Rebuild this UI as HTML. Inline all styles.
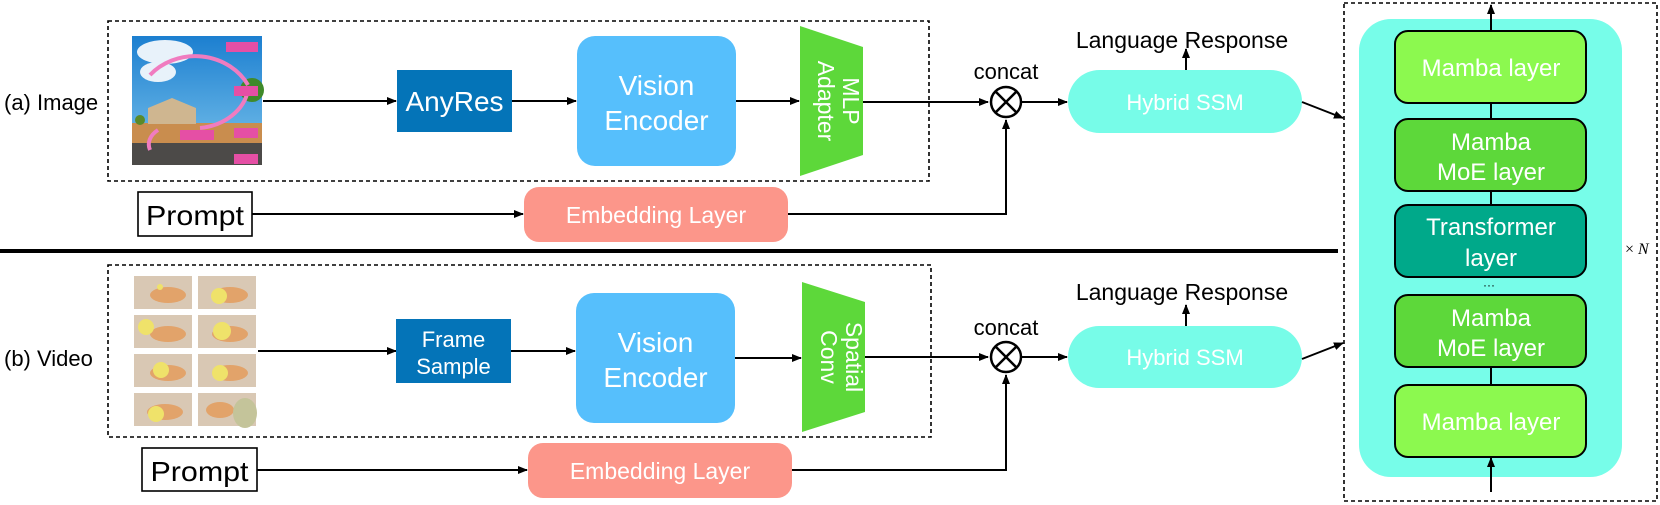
<!DOCTYPE html>
<html><head><meta charset="utf-8"><style>
html,body{margin:0;padding:0;background:#fff;}
svg{display:block;font-family:"Liberation Sans",Arial,sans-serif;}
</style></head><body>
<svg width="1660" height="505" viewBox="0 0 1660 505" xmlns="http://www.w3.org/2000/svg">
<defs>
<marker id="ah" markerWidth="10" markerHeight="8" refX="9" refY="4" orient="auto" markerUnits="userSpaceOnUse">
<path d="M0,0 L10,4 L0,8 Z" fill="#000"/></marker>
<linearGradient id="sky" x1="0" y1="0" x2="0" y2="1"><stop offset="0" stop-color="#1c7fd0"/><stop offset="1" stop-color="#7cc4ec"/></linearGradient>
</defs>

<!-- ===== TOP (a) ===== -->
<text x="4" y="110" font-size="22">(a) Image</text>
<rect x="108" y="21" width="821" height="160" fill="none" stroke="#000" stroke-width="1.6" stroke-dasharray="4,3"/>
<g>
<rect x="132" y="36" width="130" height="129" fill="url(#sky)"/>
<ellipse cx="165" cy="52" rx="28" ry="12" fill="#e8f2fa"/>
<ellipse cx="158" cy="72" rx="18" ry="10" fill="#e8f2fa"/>
<rect x="132" y="123" width="130" height="20" fill="#c98d4e"/>
<rect x="132" y="143" width="130" height="22" fill="#4c4a48"/>
<polygon points="148,124 148,108 172,98 196,108 196,124" fill="#cfb690"/>
<circle cx="140" cy="120" r="5" fill="#5a8a2a"/>
<circle cx="252" cy="90" r="12" fill="#3f8a2a"/>
<path d="M150,75 A60,55 0 0 1 248,85" fill="none" stroke="#f07cc0" stroke-width="4"/>
<path d="M248,90 A55,45 0 0 1 200,128" fill="none" stroke="#f07cc0" stroke-width="4"/>
<path d="M150,150 A30,20 0 0 1 158,130" fill="none" stroke="#f07cc0" stroke-width="4"/>
<rect x="226" y="42" width="32" height="10" fill="#e54fa5"/>
<rect x="234" y="86" width="24" height="10" fill="#e54fa5"/>
<rect x="180" y="130" width="34" height="10" fill="#e54fa5"/>
<rect x="234" y="128" width="24" height="10" fill="#e54fa5"/>
<rect x="234" y="154" width="24" height="10" fill="#e54fa5"/>
</g>
<line x1="263" y1="101" x2="396" y2="101" stroke="#000" stroke-width="2" marker-end="url(#ah)"/>
<rect x="397" y="70" width="115" height="62" fill="#0474b8"/>
<text x="454.5" y="111" font-size="28" fill="#fff" text-anchor="middle">AnyRes</text>
<line x1="512" y1="101" x2="576" y2="101" stroke="#000" stroke-width="2" marker-end="url(#ah)"/>
<rect x="577" y="36" width="159" height="130" rx="18" fill="#56bffc"/>
<text x="656.5" y="95" font-size="28" fill="#fff" text-anchor="middle">Vision</text>
<text x="656.5" y="130" font-size="28" fill="#fff" text-anchor="middle">Encoder</text>
<line x1="736" y1="101" x2="799" y2="101" stroke="#000" stroke-width="2" marker-end="url(#ah)"/>
<polygon points="800,26 863,47 863,155 800,176" fill="#5dd83a"/>
<text transform="translate(843,101) rotate(90)" font-size="23" fill="#fff" text-anchor="middle">MLP</text>
<text transform="translate(818,101) rotate(90)" font-size="23" fill="#fff" text-anchor="middle">Adapter</text>
<line x1="863" y1="102" x2="988" y2="102" stroke="#000" stroke-width="2" marker-end="url(#ah)"/>
<text x="1006" y="79" font-size="22" text-anchor="middle">concat</text>
<circle cx="1006" cy="102" r="15" fill="#fff" stroke="#000" stroke-width="2.5"/>
<line x1="995.4" y1="91.4" x2="1016.6" y2="112.6" stroke="#000" stroke-width="2.5"/>
<line x1="1016.6" y1="91.4" x2="995.4" y2="112.6" stroke="#000" stroke-width="2.5"/>
<rect x="138" y="192" width="114" height="44" fill="#fff" stroke="#000" stroke-width="1.6"/>
<text x="195" y="225" font-size="28" text-anchor="middle" textLength="98" lengthAdjust="spacingAndGlyphs">Prompt</text>
<line x1="252" y1="214" x2="523" y2="214" stroke="#000" stroke-width="2" marker-end="url(#ah)"/>
<rect x="524" y="187" width="264" height="55" rx="15" fill="#fc968a"/>
<text x="656" y="223" font-size="23" fill="#fff" text-anchor="middle">Embedding Layer</text>
<polyline points="788,214 1006,214 1006,120" fill="none" stroke="#000" stroke-width="2" marker-end="url(#ah)"/>
<line x1="1022" y1="102" x2="1067" y2="102" stroke="#000" stroke-width="2" marker-end="url(#ah)"/>
<rect x="1068" y="70" width="234" height="63" rx="31.5" fill="#77fce8"/>
<text x="1185" y="110" font-size="22" fill="#fff" text-anchor="middle">Hybrid SSM</text>
<line x1="1186" y1="70" x2="1186" y2="49" stroke="#000" stroke-width="2" marker-end="url(#ah)"/>
<text x="1182" y="48" font-size="23" text-anchor="middle">Language Response</text>
<line x1="1302" y1="102" x2="1343" y2="118" stroke="#000" stroke-width="2" marker-end="url(#ah)"/>

<line x1="0" y1="251" x2="1338" y2="251" stroke="#000" stroke-width="4"/>

<!-- ===== BOTTOM (b) ===== -->
<text x="4" y="366" font-size="22">(b) Video</text>
<rect x="108" y="265" width="823" height="172" fill="none" stroke="#000" stroke-width="1.6" stroke-dasharray="4,3"/>
<g>
<g fill="#d9c8b4"><rect x="134" y="276" width="58" height="33"/><rect x="198" y="276" width="58" height="33"/>
<rect x="134" y="315" width="58" height="33"/><rect x="198" y="315" width="58" height="33"/>
<rect x="134" y="354" width="58" height="33"/><rect x="198" y="354" width="58" height="33"/>
<rect x="134" y="393" width="58" height="33"/><rect x="198" y="393" width="58" height="33"/></g>
<g fill="#e2a36a"><ellipse cx="168" cy="295" rx="18" ry="8"/><ellipse cx="230" cy="295" rx="18" ry="8"/>
<ellipse cx="168" cy="334" rx="18" ry="8"/><ellipse cx="230" cy="334" rx="18" ry="8"/>
<ellipse cx="168" cy="373" rx="18" ry="8"/><ellipse cx="230" cy="373" rx="18" ry="8"/>
<ellipse cx="165" cy="412" rx="18" ry="8"/><ellipse cx="220" cy="410" rx="14" ry="8"/></g>
<g fill="#efe26a"><circle cx="160" cy="287" r="3"/><circle cx="219" cy="296" r="8"/><circle cx="146" cy="327" r="8"/>
<circle cx="222" cy="331" r="9"/><circle cx="161" cy="370" r="8"/><circle cx="220" cy="373" r="8"/><circle cx="156" cy="414" r="8"/></g>
<ellipse cx="245" cy="413" rx="12" ry="15" fill="#c4c49a"/>
</g>
<line x1="258" y1="351" x2="396" y2="351" stroke="#000" stroke-width="2" marker-end="url(#ah)"/>
<rect x="396" y="319" width="115" height="64" fill="#0474b8"/>
<text x="453.5" y="347" font-size="22" fill="#fff" text-anchor="middle">Frame</text>
<text x="453.5" y="374" font-size="22" fill="#fff" text-anchor="middle">Sample</text>
<line x1="511" y1="351" x2="575" y2="351" stroke="#000" stroke-width="2" marker-end="url(#ah)"/>
<rect x="576" y="293" width="159" height="130" rx="18" fill="#56bffc"/>
<text x="655.5" y="352" font-size="28" fill="#fff" text-anchor="middle">Vision</text>
<text x="655.5" y="387" font-size="28" fill="#fff" text-anchor="middle">Encoder</text>
<line x1="735" y1="358" x2="801" y2="358" stroke="#000" stroke-width="2" marker-end="url(#ah)"/>
<polygon points="802,282 865,302 865,412 802,432" fill="#5dd83a"/>
<text transform="translate(846,357) rotate(90)" font-size="23" fill="#fff" text-anchor="middle">Spatial</text>
<text transform="translate(821,357) rotate(90)" font-size="23" fill="#fff" text-anchor="middle">Conv</text>
<line x1="865" y1="357" x2="988" y2="357" stroke="#000" stroke-width="2" marker-end="url(#ah)"/>
<text x="1006" y="335" font-size="22" text-anchor="middle">concat</text>
<circle cx="1006" cy="357" r="15" fill="#fff" stroke="#000" stroke-width="2.5"/>
<line x1="995.4" y1="346.4" x2="1016.6" y2="367.6" stroke="#000" stroke-width="2.5"/>
<line x1="1016.6" y1="346.4" x2="995.4" y2="367.6" stroke="#000" stroke-width="2.5"/>
<rect x="142" y="448" width="115" height="43" fill="#fff" stroke="#000" stroke-width="1.6"/>
<text x="199.5" y="481" font-size="28" text-anchor="middle" textLength="98" lengthAdjust="spacingAndGlyphs">Prompt</text>
<line x1="257" y1="470" x2="527" y2="470" stroke="#000" stroke-width="2" marker-end="url(#ah)"/>
<rect x="528" y="443" width="264" height="55" rx="15" fill="#fc968a"/>
<text x="660" y="479" font-size="23" fill="#fff" text-anchor="middle">Embedding Layer</text>
<polyline points="792,470 1006,470 1006,375" fill="none" stroke="#000" stroke-width="2" marker-end="url(#ah)"/>
<line x1="1022" y1="357" x2="1067" y2="357" stroke="#000" stroke-width="2" marker-end="url(#ah)"/>
<rect x="1068" y="326" width="234" height="62" rx="31" fill="#77fce8"/>
<text x="1185" y="365" font-size="22" fill="#fff" text-anchor="middle">Hybrid SSM</text>
<line x1="1186" y1="326" x2="1186" y2="305" stroke="#000" stroke-width="2" marker-end="url(#ah)"/>
<text x="1182" y="300" font-size="23" text-anchor="middle">Language Response</text>
<line x1="1302" y1="359" x2="1343" y2="343" stroke="#000" stroke-width="2" marker-end="url(#ah)"/>

<!-- ===== RIGHT STACK ===== -->
<rect x="1344" y="3" width="313" height="498" fill="none" stroke="#000" stroke-width="1.6" stroke-dasharray="4,3"/>
<rect x="1359" y="19" width="263" height="458" rx="32" fill="#77fde9"/>
<line x1="1491" y1="31" x2="1491" y2="5" stroke="#000" stroke-width="2" marker-end="url(#ah)"/>
<line x1="1491" y1="492" x2="1491" y2="458" stroke="#000" stroke-width="2" marker-end="url(#ah)"/>
<line x1="1491" y1="103" x2="1491" y2="119" stroke="#000" stroke-width="2"/>
<line x1="1491" y1="191" x2="1491" y2="205" stroke="#000" stroke-width="2"/>
<line x1="1491" y1="367" x2="1491" y2="385" stroke="#000" stroke-width="2"/>
<g stroke="#000" stroke-width="2">
<rect x="1395" y="31" width="191" height="72" rx="13" fill="#8cf94f"/>
<rect x="1395" y="119" width="191" height="72" rx="13" fill="#5dd83a"/>
<rect x="1395" y="205" width="191" height="72" rx="13" fill="#00a98a"/>
<rect x="1395" y="295" width="191" height="72" rx="13" fill="#5dd83a"/>
<rect x="1395" y="385" width="191" height="72" rx="13" fill="#8cf94f"/>
</g>
<g fill="#fff" font-size="24" text-anchor="middle">
<text x="1491" y="76">Mamba layer</text>
<text x="1491" y="150">Mamba</text><text x="1491" y="180">MoE layer</text>
<text x="1491" y="235">Transformer</text><text x="1491" y="266">layer</text>
<text x="1491" y="326">Mamba</text><text x="1491" y="356">MoE layer</text>
<text x="1491" y="430">Mamba layer</text>
</g>
<text x="1489" y="289" font-size="12" text-anchor="middle">···</text>
<text x="1625" y="254" font-size="16" font-family="Liberation Serif,serif">× <tspan font-style="italic">N</tspan></text>
</svg>
</body></html>
